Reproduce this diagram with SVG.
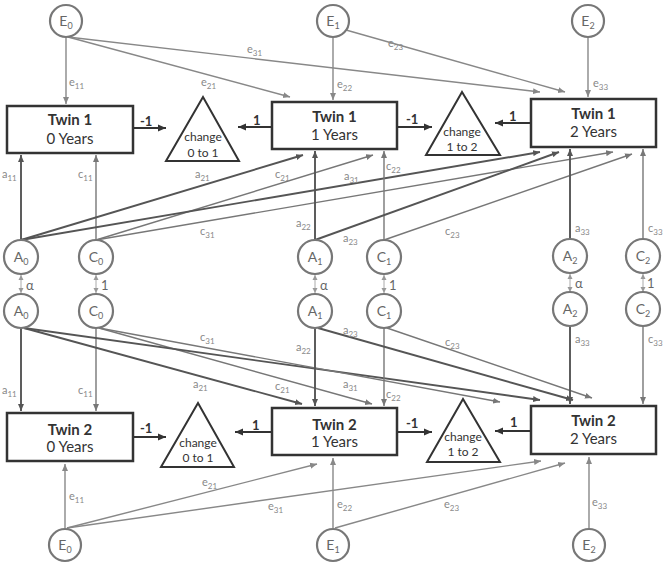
<svg xmlns="http://www.w3.org/2000/svg" width="666" height="568" viewBox="0 0 666 568">
<defs>
<marker id="ad" markerUnits="userSpaceOnUse" markerWidth="9" markerHeight="8" refX="8" refY="4" orient="auto"><path d="M0,0.5 L8,4 L0,7.5 z" fill="#333"/></marker>
<marker id="aa" markerUnits="userSpaceOnUse" markerWidth="8" markerHeight="7" refX="7" refY="3.5" orient="auto"><path d="M0,0.5 L7,3.5 L0,6.5 z" fill="#555"/></marker>
<marker id="ac" markerUnits="userSpaceOnUse" markerWidth="8" markerHeight="7" refX="7" refY="3.5" orient="auto"><path d="M0,0.5 L7,3.5 L0,6.5 z" fill="#777"/></marker>
<marker id="ae" markerUnits="userSpaceOnUse" markerWidth="8" markerHeight="7" refX="7" refY="3.5" orient="auto"><path d="M0,0.5 L7,3.5 L0,6.5 z" fill="#888"/></marker>
<marker id="aw" markerUnits="userSpaceOnUse" markerWidth="6" markerHeight="6" refX="5" refY="3" orient="auto-start-reverse"><path d="M0,0.5 L5,3 L0,5.5 z" fill="#999"/></marker>
</defs>
<style>
text{font-family:Lato,"Open Sans","Liberation Sans",sans-serif}
.box{fill:#fff;stroke:#333;stroke-width:2.5}
.tri{fill:#fff;stroke:#333;stroke-width:2}
.bt{font-size:15px;font-weight:bold;fill:#333;text-anchor:middle}
.by{font-size:15px;fill:#333;text-anchor:middle}
.tt{font-size:12px;fill:#333;text-anchor:middle}
.lat{fill:#fff;stroke:#777;stroke-width:2.2}
.ll{font-size:14px;fill:#666;text-anchor:middle}
.d{stroke:#333;stroke-width:2;fill:none;marker-end:url(#ad)}
.a{stroke:#555;stroke-width:1.9;fill:none;marker-end:url(#aa)}
.c{stroke:#777;stroke-width:1.4;fill:none;marker-end:url(#ac)}
.e{stroke:#888;stroke-width:1.4;fill:none;marker-end:url(#ae)}
.w{stroke:#aaa;stroke-width:1;fill:none;marker-start:url(#aw);marker-end:url(#aw)}
.pl{font-size:11px;fill:#888}
.nl{font-size:13px;font-weight:bold;fill:#333}
.cl{font-size:13px;fill:#666}
</style>
<g id="connectors">
<!-- top E paths -->
<line class="e" x1="66" y1="37" x2="66" y2="104"/>
<line class="e" x1="68" y1="37" x2="290" y2="97"/>
<line class="e" x1="68" y1="37" x2="540" y2="92"/>
<line class="e" x1="333" y1="37" x2="333" y2="100"/>
<line class="e" x1="346" y1="30" x2="565" y2="92"/>
<line class="e" x1="588" y1="37" x2="588" y2="97"/>
<!-- top latent paths -->
<line class="a" x1="21" y1="240" x2="21" y2="155"/>
<line class="c" x1="96" y1="240" x2="96" y2="155"/>
<line class="a" x1="21" y1="240" x2="303" y2="155"/>
<line class="c" x1="96" y1="240" x2="373" y2="155"/>
<line class="a" x1="21" y1="240" x2="540" y2="152"/>
<line class="c" x1="96" y1="240" x2="613" y2="152"/>
<line class="a" x1="315" y1="240" x2="315" y2="151"/>
<line class="c" x1="384" y1="240" x2="384" y2="151"/>
<line class="a" x1="315" y1="240" x2="559" y2="152"/>
<line class="c" x1="384" y1="240" x2="632" y2="154"/>
<line class="a" x1="570" y1="240" x2="570" y2="149"/>
<line class="c" x1="643" y1="240" x2="643" y2="149"/>
<!-- bottom latent paths -->
<line class="a" x1="21" y1="328" x2="21" y2="411"/>
<line class="c" x1="96" y1="328" x2="96" y2="411"/>
<line class="a" x1="24" y1="328" x2="302" y2="404"/>
<line class="c" x1="99" y1="328" x2="372" y2="404"/>
<line class="a" x1="24" y1="328" x2="540" y2="400"/>
<line class="c" x1="99" y1="328" x2="500" y2="402"/>
<line class="a" x1="315" y1="328" x2="315" y2="406"/>
<line class="c" x1="384" y1="328" x2="384" y2="406"/>
<line class="a" x1="318" y1="328" x2="573" y2="400"/>
<line class="c" x1="387" y1="328" x2="592" y2="398"/>
<line class="a" x1="570" y1="327" x2="570" y2="404"/>
<line class="c" x1="643" y1="327" x2="643" y2="404"/>
<!-- bottom E paths -->
<line class="e" x1="65" y1="528" x2="65" y2="464"/>
<line class="e" x1="67" y1="528" x2="317" y2="464"/>
<line class="e" x1="67" y1="528" x2="541" y2="461"/>
<line class="e" x1="333" y1="528" x2="333" y2="458"/>
<line class="e" x1="335" y1="528" x2="565" y2="463"/>
<line class="e" x1="589" y1="528" x2="589" y2="457"/>
<!-- box to change -->
<line class="d" x1="133" y1="128" x2="166" y2="128"/>
<line class="d" x1="272" y1="127" x2="238" y2="127"/>
<line class="d" x1="397" y1="127" x2="432" y2="127"/>
<line class="d" x1="531" y1="123" x2="495" y2="123"/>
<line class="d" x1="133" y1="437" x2="166" y2="437"/>
<line class="d" x1="272" y1="432" x2="235" y2="432"/>
<line class="d" x1="397" y1="432" x2="432" y2="432"/>
<line class="d" x1="531" y1="431" x2="495" y2="431"/>
<!-- twin correlations -->
<line class="w" x1="21" y1="275" x2="21" y2="293"/>
<line class="w" x1="96" y1="275" x2="96" y2="293"/>
<line class="w" x1="315" y1="275" x2="315" y2="293"/>
<line class="w" x1="384" y1="275" x2="384" y2="293"/>
<line class="w" x1="570" y1="274" x2="570" y2="292"/>
<line class="w" x1="643" y1="274" x2="643" y2="292"/>
<!-- path labels -->
<g class="pl">
<text x="69" y="86">e<tspan dy="3" font-size="8">11</tspan></text>
<text x="201" y="86">e<tspan dy="3" font-size="8">21</tspan></text>
<text x="247" y="53">e<tspan dy="3" font-size="8">31</tspan></text>
<text x="388" y="47">e<tspan dy="3" font-size="8">23</tspan></text>
<text x="337" y="88">e<tspan dy="3" font-size="8">22</tspan></text>
<text x="593" y="87">e<tspan dy="3" font-size="8">33</tspan></text>
<text x="2" y="178">a<tspan dy="3" font-size="8">11</tspan></text>
<text x="78" y="178">c<tspan dy="3" font-size="8">11</tspan></text>
<text x="195" y="178">a<tspan dy="3" font-size="8">21</tspan></text>
<text x="275" y="178">c<tspan dy="3" font-size="8">21</tspan></text>
<text x="344" y="180">a<tspan dy="3" font-size="8">31</tspan></text>
<text x="386" y="170">c<tspan dy="3" font-size="8">22</tspan></text>
<text x="200" y="235">c<tspan dy="3" font-size="8">31</tspan></text>
<text x="296" y="227">a<tspan dy="3" font-size="8">22</tspan></text>
<text x="343" y="242">a<tspan dy="3" font-size="8">23</tspan></text>
<text x="445" y="235">c<tspan dy="3" font-size="8">23</tspan></text>
<text x="575" y="232">a<tspan dy="3" font-size="8">33</tspan></text>
<text x="648" y="232">c<tspan dy="3" font-size="8">33</tspan></text>
<text x="2" y="394">a<tspan dy="3" font-size="8">11</tspan></text>
<text x="78" y="394">c<tspan dy="3" font-size="8">11</tspan></text>
<text x="200" y="341">c<tspan dy="3" font-size="8">31</tspan></text>
<text x="193" y="388">a<tspan dy="3" font-size="8">21</tspan></text>
<text x="296" y="351">a<tspan dy="3" font-size="8">22</tspan></text>
<text x="343" y="334">a<tspan dy="3" font-size="8">23</tspan></text>
<text x="275" y="390">c<tspan dy="3" font-size="8">21</tspan></text>
<text x="343" y="388">a<tspan dy="3" font-size="8">31</tspan></text>
<text x="386" y="398">c<tspan dy="3" font-size="8">22</tspan></text>
<text x="445" y="346">c<tspan dy="3" font-size="8">23</tspan></text>
<text x="575" y="343">a<tspan dy="3" font-size="8">33</tspan></text>
<text x="648" y="343">c<tspan dy="3" font-size="8">33</tspan></text>
<text x="202" y="486">e<tspan dy="3" font-size="8">21</tspan></text>
<text x="268" y="510">e<tspan dy="3" font-size="8">31</tspan></text>
<text x="69" y="500">e<tspan dy="3" font-size="8">11</tspan></text>
<text x="337" y="508">e<tspan dy="3" font-size="8">22</tspan></text>
<text x="444" y="508">e<tspan dy="3" font-size="8">23</tspan></text>
<text x="592" y="506">e<tspan dy="3" font-size="8">33</tspan></text>
</g>
<g class="nl">
<text x="140" y="126">-1</text>
<text x="253" y="125">1</text>
<text x="406" y="124">-1</text>
<text x="509" y="121">1</text>
<text x="140" y="433">-1</text>
<text x="252" y="430">1</text>
<text x="406" y="428">-1</text>
<text x="510" y="427">1</text>
</g>
<g class="cl">
<text x="26" y="290">α</text>
<text x="101" y="290">1</text>
<text x="320" y="290">α</text>
<text x="389" y="290">1</text>
<text x="575" y="288">α</text>
<text x="647" y="288">1</text>
</g>
</g>
<g id="twin1_0"><rect class="box" x="7" y="106" width="126" height="47"/><text class="bt" x="70" y="125">Twin 1</text><text class="by" x="70" y="144">0 Years</text></g>
<g id="twin1_1"><rect class="box" x="272" y="102" width="125" height="47"/><text class="bt" x="334.5" y="122">Twin 1</text><text class="by" x="334.5" y="140">1 Years</text></g>
<g id="twin1_2"><rect class="box" x="531" y="99" width="125" height="48"/><text class="bt" x="593.5" y="119">Twin 1</text><text class="by" x="593.5" y="137">2 Years</text></g>
<g id="twin2_0"><rect class="box" x="7" y="413" width="126" height="48"/><text class="bt" x="70" y="435">Twin 2</text><text class="by" x="70" y="452">0 Years</text></g>
<g id="twin2_1"><rect class="box" x="272" y="408" width="125" height="47"/><text class="bt" x="334.5" y="430">Twin 2</text><text class="by" x="334.5" y="447">1 Years</text></g>
<g id="twin2_2"><rect class="box" x="531" y="406" width="125" height="48"/><text class="bt" x="593.5" y="426">Twin 2</text><text class="by" x="593.5" y="444">2 Years</text></g>
<g id="change1_01"><polygon class="tri" points="203,97 166,161 239,161"/><text class="tt" x="203" y="141">change</text><text class="tt" x="203" y="157">0 to 1</text></g>
<g id="change1_12"><polygon class="tri" points="462,92 426,155 500,155"/><text class="tt" x="462" y="136">change</text><text class="tt" x="462" y="151">1 to 2</text></g>
<g id="change2_01"><polygon class="tri" points="198,403 161,467 234,467"/><text class="tt" x="198" y="447">change</text><text class="tt" x="198" y="462">0 to 1</text></g>
<g id="change2_12"><polygon class="tri" points="463,399 427,462 500,462"/><text class="tt" x="463" y="441">change</text><text class="tt" x="463" y="456">1 to 2</text></g>
<g id="E0_top"><circle class="lat" cx="66" cy="21" r="16"/><text class="ll" x="66" y="26">E<tspan dy="3" font-size="9">0</tspan></text></g>
<g id="E1_top"><circle class="lat" cx="333" cy="21" r="16"/><text class="ll" x="333" y="26">E<tspan dy="3" font-size="9">1</tspan></text></g>
<g id="E2_top"><circle class="lat" cx="588" cy="21" r="16"/><text class="ll" x="588" y="26">E<tspan dy="3" font-size="9">2</tspan></text></g>
<g id="A0_t1"><circle class="lat" cx="21" cy="257" r="17"/><text class="ll" x="21" y="262">A<tspan dy="3" font-size="9">0</tspan></text></g>
<g id="C0_t1"><circle class="lat" cx="96" cy="257" r="17"/><text class="ll" x="96" y="262">C<tspan dy="3" font-size="9">0</tspan></text></g>
<g id="A1_t1"><circle class="lat" cx="315" cy="257" r="17"/><text class="ll" x="315" y="262">A<tspan dy="3" font-size="9">1</tspan></text></g>
<g id="C1_t1"><circle class="lat" cx="384" cy="257" r="17"/><text class="ll" x="384" y="262">C<tspan dy="3" font-size="9">1</tspan></text></g>
<g id="A2_t1"><circle class="lat" cx="570" cy="256" r="17"/><text class="ll" x="570" y="261">A<tspan dy="3" font-size="9">2</tspan></text></g>
<g id="C2_t1"><circle class="lat" cx="643" cy="256" r="17"/><text class="ll" x="643" y="261">C<tspan dy="3" font-size="9">2</tspan></text></g>
<g id="A0_t2"><circle class="lat" cx="21" cy="311" r="17"/><text class="ll" x="21" y="316">A<tspan dy="3" font-size="9">0</tspan></text></g>
<g id="C0_t2"><circle class="lat" cx="96" cy="311" r="17"/><text class="ll" x="96" y="316">C<tspan dy="3" font-size="9">0</tspan></text></g>
<g id="A1_t2"><circle class="lat" cx="315" cy="311" r="17"/><text class="ll" x="315" y="316">A<tspan dy="3" font-size="9">1</tspan></text></g>
<g id="C1_t2"><circle class="lat" cx="384" cy="311" r="17"/><text class="ll" x="384" y="316">C<tspan dy="3" font-size="9">1</tspan></text></g>
<g id="A2_t2"><circle class="lat" cx="570" cy="309" r="17"/><text class="ll" x="570" y="314">A<tspan dy="3" font-size="9">2</tspan></text></g>
<g id="C2_t2"><circle class="lat" cx="643" cy="309" r="17"/><text class="ll" x="643" y="314">C<tspan dy="3" font-size="9">2</tspan></text></g>
<g id="E0_bot"><circle class="lat" cx="65" cy="545" r="16"/><text class="ll" x="65" y="550">E<tspan dy="3" font-size="9">0</tspan></text></g>
<g id="E1_bot"><circle class="lat" cx="333" cy="545" r="16"/><text class="ll" x="333" y="550">E<tspan dy="3" font-size="9">1</tspan></text></g>
<g id="E2_bot"><circle class="lat" cx="589" cy="545" r="16"/><text class="ll" x="589" y="550">E<tspan dy="3" font-size="9">2</tspan></text></g>
</svg>
